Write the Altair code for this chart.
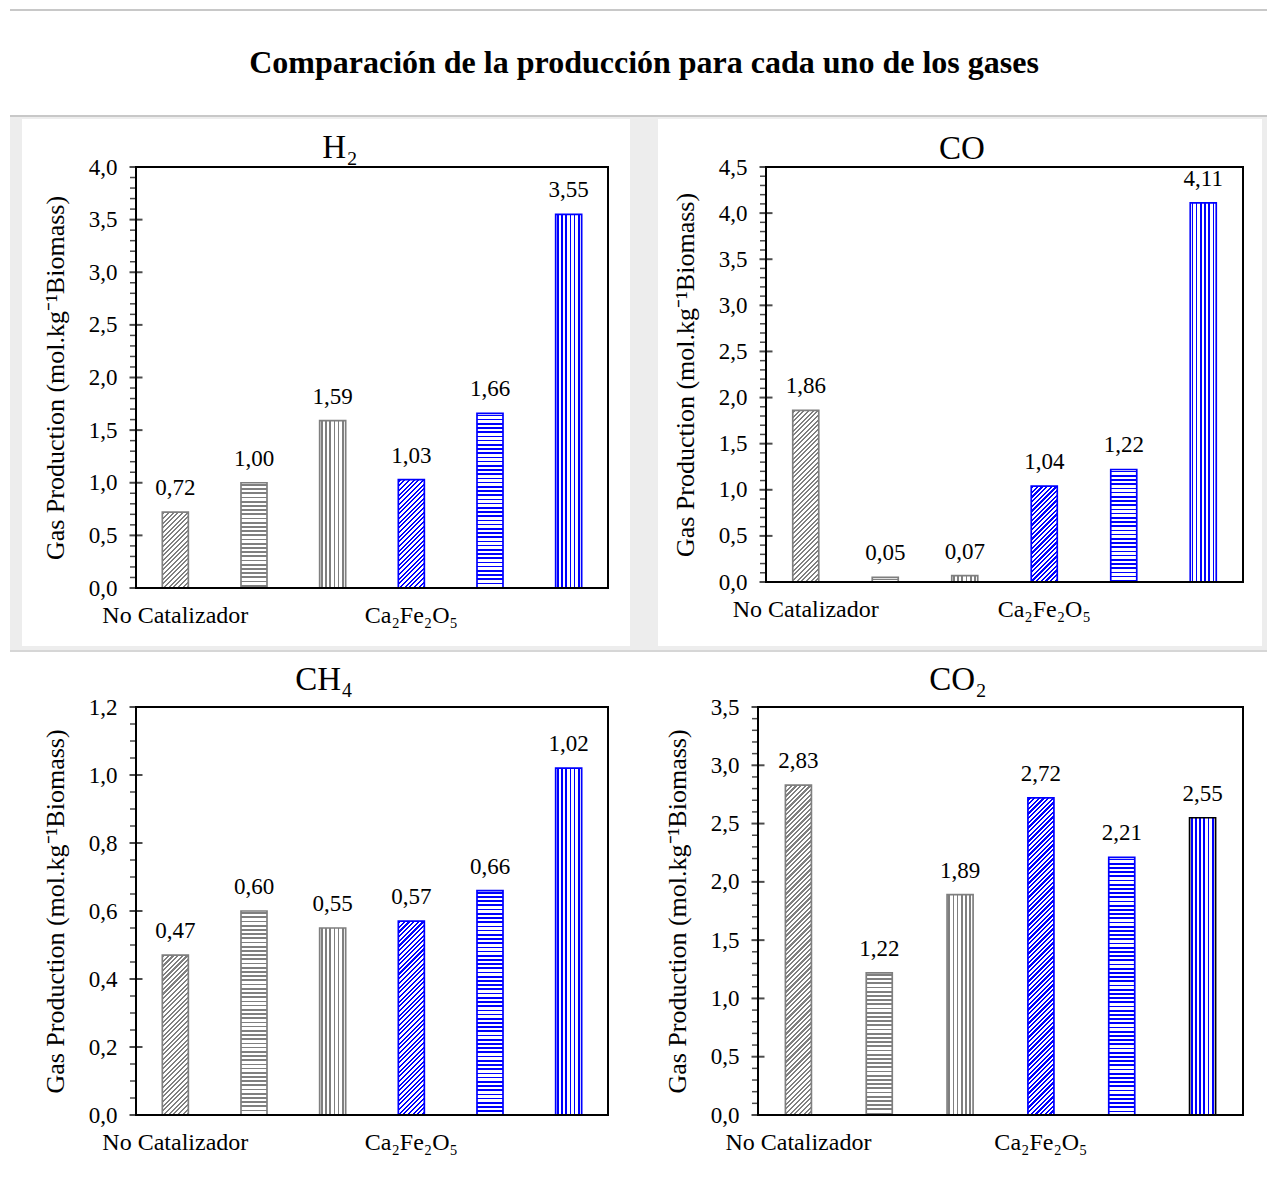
import math
import altair as alt
import pandas as pd

# ---------------- data ----------------
MAIN_TITLE = "Comparación de la producción para cada uno de los gases"
Y_TITLE = "Gas Production (mol.kg⁻¹Biomass)"
PANEL_TITLES = ["H₂", "CO", "CH₄", "CO₂"]

BAR_IDS = ["b1", "b2", "b3", "b4", "b5", "b6"]
GROUP_LABELS = ["No Catalizador", "Ca₂Fe₂O₅"]
GROUP_AT = ["b1", "b4"]

H2_VALUES = [0.72, 1.00, 1.59, 1.03, 1.66, 3.55]
CO_VALUES = [1.86, 0.05, 0.07, 1.04, 1.22, 4.11]
CH4_VALUES = [0.47, 0.60, 0.55, 0.57, 0.66, 1.02]
CO2_VALUES = [2.83, 1.22, 1.89, 2.72, 2.21, 2.55]
ALL_VALUES = [H2_VALUES, CO_VALUES, CH4_VALUES, CO2_VALUES]

Y_MAX = [4.0, 4.5, 1.2, 3.5]
Y_MAJOR_STEP = [0.5, 0.5, 0.2, 0.5]
Y_MINOR_STEP = [0.1, 0.1, 0.05, 0.1]

PATTERNS = ["diag", "horiz", "vert", "diag", "horiz", "vert"]
GRAY = "#7f7f7f"
BLUE = "#0000ff"
STRIPE_COLORS = [GRAY, GRAY, GRAY, BLUE, BLUE, BLUE]
OUTLINES = [
    [GRAY, GRAY, GRAY, BLUE, BLUE, BLUE],
    [GRAY, GRAY, GRAY, BLUE, BLUE, BLUE],
    [GRAY, GRAY, GRAY, BLUE, BLUE, BLUE],
    [GRAY, GRAY, GRAY, BLUE, BLUE, "#000000"],
]

# ---------------- layout ----------------
WIDTHS = [472, 477, 472, 485]
HEIGHTS = [421, 415, 408, 408]
BAR_W = 26
FONT = "Liberation Serif"
TITLE_POS = [(204, -9), (196, -8), (188, -17), (200, -17)]


def fmt(v):
    return f"{v:.2f}".replace(".", ",")


def GS(o, c):
    return alt.GradientStop(offset=round(min(max(o, 0.0), 1.0), 5), color=c)


def stripe_stops(length, period, thick, color, phase):
    stops = [GS(0, "white")]
    pos = phase
    while pos < length:
        a = pos / length
        b = min((pos + thick) / length, 1.0)
        stops += [GS(a, "white"), GS(a, color), GS(b, color), GS(b, "white")]
        pos += period
    stops.append(GS(1, "white"))
    return stops


def pattern_fill(kind, w, h, color):
    h = max(h, 1.0)
    if kind == "vert":
        return alt.LinearGradient(gradient="linear", x1=0, y1=0, x2=1, y2=0,
                                  stops=stripe_stops(w, 4.2, 1.7, color, 1.3))
    if kind == "horiz":
        return alt.LinearGradient(gradient="linear", x1=0, y1=0, x2=0, y2=1,
                                  stops=stripe_stops(h, 4.2, 1.7, color, 1.3))
    k = (w + h) / (w * w + h * h)
    length = (w + h) / math.sqrt(2)
    return alt.LinearGradient(gradient="linear", x1=0, y1=0,
                              x2=round(w * k, 6), y2=round(h * k, 6),
                              stops=stripe_stops(length, 3.3, 1.6, color, 0.8))


ONE = alt.Data(values=[{"k": 1}])

x_label_expr = (
    f"datum.value == '{GROUP_AT[0]}' ? '{GROUP_LABELS[0]}' : "
    f"(datum.value == '{GROUP_AT[1]}' ? '{GROUP_LABELS[1]}' : '')"
)


def panel(i, extra_first=None):
    W, H = WIDTHS[i], HEIGHTS[i]
    ymax = Y_MAX[i]
    values = ALL_VALUES[i]
    df = pd.DataFrame({"bar": BAR_IDS, "value": values,
                       "label": [fmt(v) for v in values]})
    n_major = int(round(ymax / Y_MAJOR_STEP[i]))
    majors = [round(j * Y_MAJOR_STEP[i], 3) for j in range(n_major + 1)]
    n_minor = int(round(ymax / Y_MINOR_STEP[i]))
    minors = [round(j * Y_MINOR_STEP[i], 3) for j in range(n_minor + 1)]
    minors = [m for m in minors if all(abs(m - M) > 1e-6 for M in majors)]

    x_axis = alt.Axis(labelExpr=x_label_expr, ticks=False, tickSize=0, domain=False,
                      labelAngle=0, labelFont=FONT, labelFontSize=24, labelColor="black",
                      labelPadding=15, labelLimit=0, title=None, grid=False, zindex=1)
    y_axis = alt.Axis(values=majors, labelExpr="replace(format(datum.value, '.1f'), '.', ',')",
                      ticks=False, tickSize=0, domain=False, grid=False,
                      labelFont=FONT, labelFontSize=23, labelColor="black", labelPadding=19,
                      title=Y_TITLE, titleFont=FONT, titleFontSize=26, titleFontWeight="normal",
                      titleColor="black", titlePadding=20, zindex=1)
    xenc = alt.X("bar:N", scale=alt.Scale(domain=BAR_IDS, paddingInner=0.5, paddingOuter=0.25),
                 axis=x_axis, title=None)
    yenc = alt.Y("value:Q", scale=alt.Scale(domain=[0, ymax], nice=False, zero=True),
                 axis=y_axis)

    layers = list(extra_first or [])
    for j in range(6):
        h = values[j] / ymax * H
        grad = pattern_fill(PATTERNS[j], BAR_W, h, STRIPE_COLORS[j])
        layers.append(
            alt.Chart(df).transform_filter(alt.datum.bar == BAR_IDS[j])
            .mark_bar(size=BAR_W, fill=grad, stroke=OUTLINES[i][j], strokeWidth=1.7)
            .encode(x=xenc, y=yenc)
        )
    layers.append(
        alt.Chart(df).mark_text(font=FONT, fontSize=23, baseline="alphabetic", dy=-17, color="black")
        .encode(x=xenc, y=yenc, text="label:N")
    )
    layers.append(
        alt.Chart(pd.DataFrame({"value": minors}))
        .mark_tick(orient="horizontal", size=6, thickness=1.5, color="black")
        .encode(y=yenc, x=alt.value(-3))
    )
    layers.append(
        alt.Chart(pd.DataFrame({"value": majors}))
        .mark_tick(orient="horizontal", size=13, thickness=2, color="black")
        .encode(y=yenc, x=alt.value(0))
    )
    # plot frame
    layers.append(
        alt.Chart(ONE).mark_rect(fillOpacity=0, stroke="black", strokeWidth=2)
        .encode(x=alt.value(0), x2=alt.value(W), y=alt.value(0), y2=alt.value(H))
    )
    # panel title
    tx, ty = TITLE_POS[i]
    layers.append(
        alt.Chart(ONE).mark_text(font=FONT, fontSize=33, baseline="alphabetic", align="center",
                                 color="black")
        .encode(x=alt.value(tx), y=alt.value(ty), text=alt.value(PANEL_TITLES[i]))
    )
    return alt.layer(*layers).properties(width=W, height=H)


# decorations (page frame of the original screenshot)
decor_h2 = [
    alt.Chart(ONE).mark_rect(color="#ededed")
    .encode(x=alt.value(-126), x2=alt.value(1131), y=alt.value(-51), y2=alt.value(483)),
    alt.Chart(ONE).mark_rect(color="#c8c8c8")
    .encode(x=alt.value(-126), x2=alt.value(1131), y=alt.value(-52), y2=alt.value(-50)),
    alt.Chart(ONE).mark_rect(color="white")
    .encode(x=alt.value(-114), x2=alt.value(494), y=alt.value(-48), y2=alt.value(479)),
    alt.Chart(ONE).mark_rect(color="#c8c8c8")
    .encode(x=alt.value(-126), x2=alt.value(1131), y=alt.value(-158), y2=alt.value(-156)),
    alt.Chart(ONE).mark_text(font=FONT, fontSize=32, fontWeight="bold", baseline="alphabetic",
                             align="center", color="black")
    .encode(x=alt.value(508), y=alt.value(-94), text=alt.value(MAIN_TITLE)),
]
decor_co = [
    alt.Chart(ONE).mark_rect(color="white")
    .encode(x=alt.value(-108), x2=alt.value(496), y=alt.value(-48), y2=alt.value(479)),
]
decor_ch4 = [
    alt.Chart(ONE).mark_rect(color="#d6d6d6")
    .encode(x=alt.value(-126), x2=alt.value(1131), y=alt.value(-57), y2=alt.value(-55)),
]

row1 = alt.hconcat(panel(0, decor_h2), panel(1, decor_co), spacing=158, bounds="flush")
row2 = alt.hconcat(panel(2, decor_ch4), panel(3), spacing=150, bounds="flush")

chart = (
    alt.vconcat(row1, row2, spacing=0)
    .properties(padding={"left": 2, "top": 1, "right": 0, "bottom": 20}, background="white")
    .configure_view(strokeWidth=0)
)

chart.save("out.html", embed_options={"renderer": "svg", "actions": False})
